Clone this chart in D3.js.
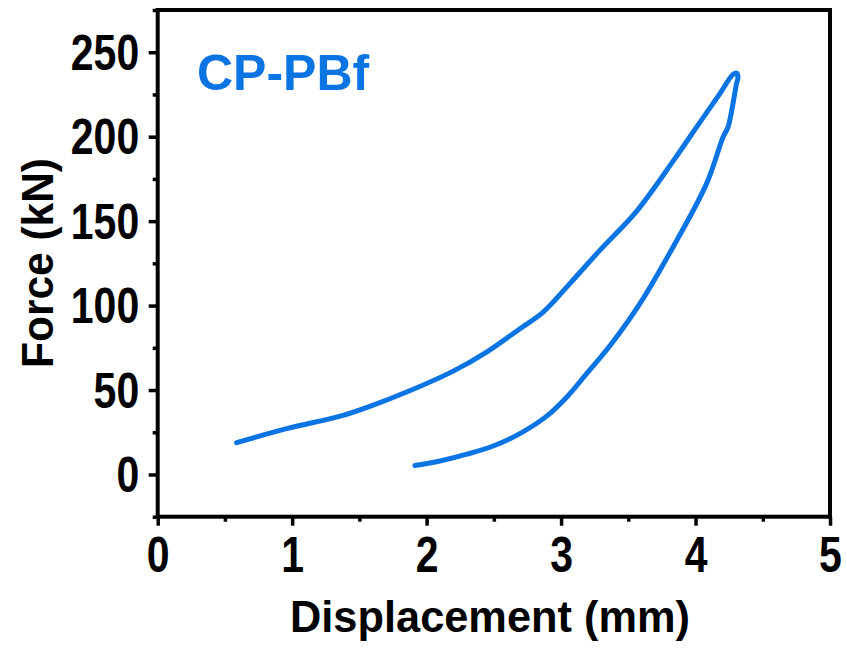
<!DOCTYPE html>
<html>
<head>
<meta charset="utf-8">
<script src="https://cdn.jsdelivr.net/npm/d3@7"></script>
<style>
  body { margin: 0; background: #fff; }
  text { font-family: "Liberation Sans", Arial, sans-serif; font-weight: bold; }
</style>
</head>
<body>
<div id="chart"></div>
<script>
// loading branch (displacement mm / force kN)
var loadDisp  = [0.587, 0.959, 1.380, 1.578, 1.851, 2.198, 2.446, 2.694, 2.867, 3.065, 3.288, 3.561, 3.833, 4.032, 4.181, 4.280, 4.307];
var loadForce = [18.8, 27.1, 35.0, 40.3, 48.8, 61.2, 72.5, 86.3, 96.1, 113.0, 132.7, 155.8, 185.5, 208.5, 225.5, 237.0, 237.6];
// unloading branch
var unloadDisp  = [4.315, 4.305, 4.242, 4.205, 4.082, 3.833, 3.586, 3.375, 3.190, 3.050, 2.900, 2.700, 2.500, 2.300, 2.100, 1.913];
var unloadForce = [234.6, 231.5, 205.8, 199.8, 172.2, 134.7, 101.1, 77.4, 59.7, 46.5, 35.0, 24.5, 17.0, 12.0, 8.0, 5.3];

var xTicks = [0, 1, 2, 3, 4, 5];
var xMinor = [0.5, 1.5, 2.5, 3.5, 4.5];
var yTicks = [0, 50, 100, 150, 200, 250];
var yMinor = [-25, 25, 75, 125, 175, 225, 275];

var sampleLabel = "CP-PBf";
var xTitle = "Displacement (mm)";
var yTitle = "Force (kN)";

var width = 847, height = 651;
var plotL = 157.7, plotR = 830, plotT = 10, plotB = 516.7;
var blue = "#0b74e3";
var narrow = 0.82;

var svg = d3.select("#chart")
  .append("svg")
  .attr("width", width)
  .attr("height", height);

var x = d3.scaleLinear().domain([0, 5]).range([plotL, plotR]);
var y = d3.scaleLinear().domain([-25, 275]).range([plotB, plotT]);

// minor ticks
svg.append("g")
  .attr("transform", "translate(0," + plotB + ")")
  .call(d3.axisBottom(x).tickValues(xMinor).tickSize(5).tickSizeOuter(0).tickFormat(""));
svg.append("g")
  .attr("transform", "translate(" + plotL + ",0)")
  .call(d3.axisLeft(y).tickValues(yMinor).tickSize(5).tickSizeOuter(0).tickFormat(""));

// major ticks + labels
var gx = svg.append("g")
  .attr("transform", "translate(0," + plotB + ")")
  .call(d3.axisBottom(x).tickValues(xTicks).tickSize(9).tickSizeOuter(0).tickPadding(11).tickFormat(d3.format("d")));
var gy = svg.append("g")
  .attr("transform", "translate(" + plotL + ",0)")
  .call(d3.axisLeft(y).tickValues(yTicks).tickSize(9).tickSizeOuter(0).tickPadding(9).tickFormat(d3.format("d")));

svg.selectAll(".domain").remove();
svg.selectAll(".tick line").attr("stroke", "#000").attr("stroke-width", 3.5);

gx.selectAll("text")
  .attr("font-size", 50)
  .attr("fill", "#000")
  .attr("transform", "scale(" + narrow + ",1)");
gy.selectAll("text")
  .attr("font-size", 50)
  .attr("fill", "#000")
  .attr("dy", "0.34em")
  .attr("x", -18.5 / narrow)
  .attr("transform", "scale(" + narrow + ",1)");

// frame
svg.append("rect")
  .attr("x", plotL)
  .attr("y", plotT)
  .attr("width", plotR - plotL)
  .attr("height", plotB - plotT)
  .attr("fill", "none")
  .attr("stroke", "#000")
  .attr("stroke-width", 4);

// curve
var pts = loadDisp.map(function(d, i) { return [d, loadForce[i]]; })
  .concat(unloadDisp.map(function(d, i) { return [d, unloadForce[i]]; }));

var line = d3.line()
  .x(function(d) { return x(d[0]); })
  .y(function(d) { return y(d[1]); })
  .curve(d3.curveCatmullRom.alpha(0.5));

svg.append("path")
  .datum(pts)
  .attr("d", line)
  .attr("fill", "none")
  .attr("stroke", blue)
  .attr("stroke-width", 5)
  .attr("stroke-linejoin", "round")
  .attr("stroke-linecap", "round");

// labels
svg.append("text")
  .attr("x", 197)
  .attr("y", 90)
  .attr("font-size", 50)
  .attr("fill", blue)
  .text(sampleLabel);

svg.append("text")
  .attr("x", 490)
  .attr("y", 632)
  .attr("text-anchor", "middle")
  .attr("font-size", 44)
  .attr("textLength", 400)
  .attr("lengthAdjust", "spacingAndGlyphs")
  .text(xTitle);

svg.append("text")
  .attr("transform", "translate(53,263) rotate(-90)")
  .attr("text-anchor", "middle")
  .attr("font-size", 44)
  .attr("textLength", 210)
  .attr("lengthAdjust", "spacingAndGlyphs")
  .text(yTitle);
</script>
</body>
</html>
